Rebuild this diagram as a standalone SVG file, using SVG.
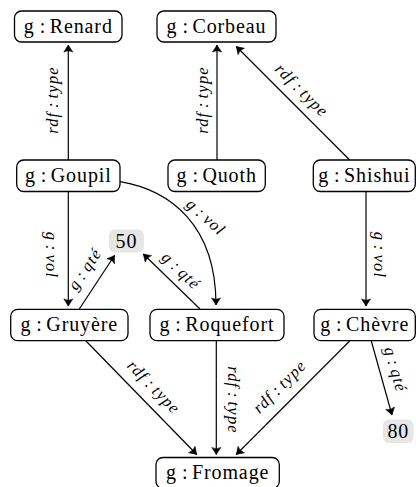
<svg xmlns="http://www.w3.org/2000/svg" width="416" height="487" viewBox="0 0 416 487">
<style>
.box{fill:#fff;stroke:#000;stroke-width:1.3}
.lit{fill:#e6e6e6;stroke:none}
.nt{font-family:"Liberation Serif","Times New Roman",serif;font-size:20px;letter-spacing:0.9px;text-anchor:middle;fill:#000}
.e{fill:none;stroke:#000;stroke-width:1.2;marker-end:url(#arr)}
.lb{font-family:"Liberation Serif","Times New Roman",serif;font-style:italic;font-size:16.5px;letter-spacing:1.2px;text-anchor:middle;fill:#000}
</style>
<defs>
<marker id="arr" markerUnits="userSpaceOnUse" orient="auto" refX="0" refY="0" markerWidth="12" markerHeight="12" viewBox="-8 -6 10 12" overflow="visible">
<path d="M-7,-4.5 Q-2.5,-1.5 0,0 Q-2.5,1.5 -7,4.5 Q-4.5,0 -7,-4.5 Z" fill="#000" stroke="#000" stroke-width="0.6" stroke-linejoin="round"/>
</marker>
</defs>
<g id="connectors">
<path class="e" d="M68.3,160 L68.3,45"/>
<path class="e" d="M217,160 L217,45"/>
<path class="e" d="M349.7,160 L236.3,46.5"/>
<path class="e" d="M68.3,191.5 L68.3,306"/>
<path class="e" d="M79.3,309 L114.5,255.5"/>
<path class="e" d="M200,309 L143.3,254"/>
<path class="e" d="M120,181.7 C170,190 216,225 216,305"/>
<path class="e" d="M366,191.5 L366,306"/>
<path class="e" d="M86,341 L196.7,454.5"/>
<path class="e" d="M216.3,341 L216.3,454.5"/>
<path class="e" d="M349.7,341 L236.3,454.5"/>
<path class="e" d="M371.3,341 L392,415"/>
<text class="lb" transform="translate(58,100) rotate(-90)">rdf<tspan dx="3.5">:</tspan><tspan dx="3">type</tspan></text>
<text class="lb" transform="translate(207.5,100) rotate(-90)">rdf<tspan dx="3.5">:</tspan><tspan dx="3">type</tspan></text>
<text class="lb" transform="translate(298,94) rotate(45)">rdf<tspan dx="3.5">:</tspan><tspan dx="3">type</tspan></text>
<text class="lb" transform="translate(45.5,255) rotate(90)">g<tspan dx="3.5">:</tspan><tspan dx="3">vol</tspan></text>
<text class="lb" transform="translate(373.5,255) rotate(90)">g<tspan dx="3.5">:</tspan><tspan dx="3">vol</tspan></text>
<text class="lb" transform="translate(89.3,272.2) rotate(-55.7)">g<tspan dx="3.5">:</tspan><tspan dx="3">qté</tspan></text>
<text class="lb" transform="translate(177.3,274.6) rotate(43.6)">g<tspan dx="3.5">:</tspan><tspan dx="3">qté</tspan></text>
<text class="lb" transform="translate(202.3,221) rotate(42)">g<tspan dx="3.5">:</tspan><tspan dx="3">vol</tspan></text>
<text class="lb" transform="translate(150,390.8) rotate(45.7)">rdf<tspan dx="3.5">:</tspan><tspan dx="3">type</tspan></text>
<text class="lb" transform="translate(228,400) rotate(90)">rdf<tspan dx="3.5">:</tspan><tspan dx="3">type</tspan></text>
<text class="lb" transform="translate(283.4,390.3) rotate(-44.9)">rdf<tspan dx="3.5">:</tspan><tspan dx="3">type</tspan></text>
<text class="lb" transform="translate(390.3,371) rotate(74)">g<tspan dx="3.5">:</tspan><tspan dx="3">qté</tspan></text>
</g>
<g id="renard"><rect class="box" x="14.5" y="11" width="107.5" height="31" rx="7"/><text class="nt" x="68.3" y="32.7">g<tspan dx="5">:</tspan><tspan dx="3.5">Renard</tspan></text></g>
<g id="corbeau"><rect class="box" x="157" y="11" width="119" height="31" rx="7"/><text class="nt" x="216.5" y="32.7">g<tspan dx="5">:</tspan><tspan dx="3.5">Corbeau</tspan></text></g>
<g id="goupil"><rect class="box" x="16.7" y="160" width="103.3" height="31.5" rx="7"/><text class="nt" x="68.3" y="181.7">g<tspan dx="5">:</tspan><tspan dx="3.5">Goupil</tspan></text></g>
<g id="quoth"><rect class="box" x="168" y="160" width="97.3" height="31.5" rx="7"/><text class="nt" x="216.7" y="181.7">g<tspan dx="5">:</tspan><tspan dx="3.5">Quoth</tspan></text></g>
<g id="shishui"><rect class="box" x="313.3" y="160" width="102" height="31.5" rx="7"/><text class="nt" x="364.3" y="181.7">g<tspan dx="5">:</tspan><tspan dx="3.5">Shishui</tspan></text></g>
<g id="gruyere"><rect class="box" x="10.7" y="309.3" width="117.3" height="31.4" rx="7"/><text class="nt" x="69.3" y="331">g<tspan dx="5">:</tspan><tspan dx="3.5">Gruyère</tspan></text></g>
<g id="roquefort"><rect class="box" x="150" y="309.3" width="134" height="31.4" rx="7"/><text class="nt" x="217" y="331">g<tspan dx="5">:</tspan><tspan dx="3.5">Roquefort</tspan></text></g>
<g id="chevre"><rect class="box" x="314" y="309.3" width="101.3" height="31.4" rx="7"/><text class="nt" x="364.7" y="331">g<tspan dx="5">:</tspan><tspan dx="3.5">Chèvre</tspan></text></g>
<g id="fromage"><rect class="box" x="156" y="457.5" width="123.3" height="31" rx="7"/><text class="nt" x="217.7" y="479.2">g<tspan dx="5">:</tspan><tspan dx="3.5">Fromage</tspan></text></g>
<g id="n50"><rect class="lit" x="109" y="229.5" width="35" height="23" rx="6"/><text class="nt" x="126.5" y="247.5">50</text></g>
<g id="n80"><rect class="lit" x="383" y="419.5" width="30.5" height="23.5" rx="6"/><text class="nt" x="398.3" y="437.5">80</text></g>
</svg>
